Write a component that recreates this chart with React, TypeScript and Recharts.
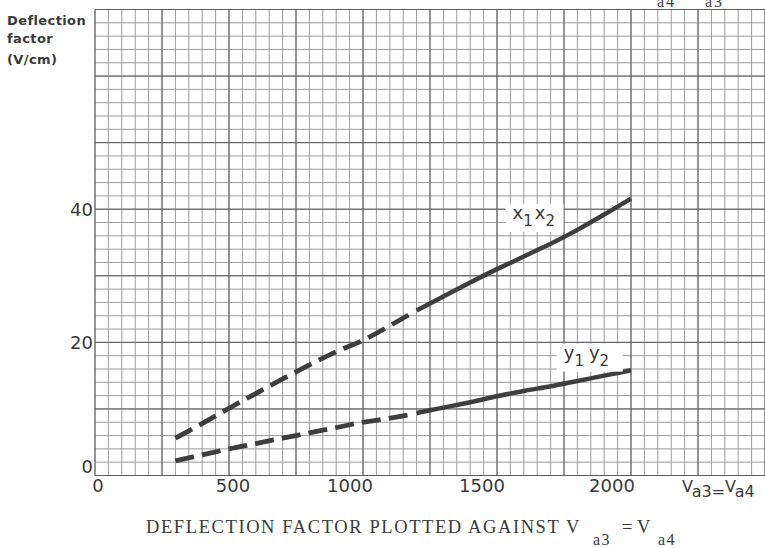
import React from 'react';
import { LineChart, Line, XAxis, YAxis, CartesianGrid, ReferenceDot } from 'recharts';

// ---- data ----
const xDashed = [300, 400, 500, 600, 700, 800, 900, 1000, 1100, 1170];
const x1x2Dashed = [5.6, 7.8, 10.1, 12.3, 14.5, 16.6, 18.6, 20.3, 22.5, 24.1];
const y1y2Dashed = [2.2, 3.1, 4.0, 4.8, 5.6, 6.4, 7.2, 8.0, 8.6, 9.1];

const xSolid = [1200, 1300, 1400, 1500, 1600, 1700, 1800, 1900, 2000];
const x1x2Solid = [24.8, 26.9, 29.0, 31.0, 32.9, 34.8, 36.9, 39.2, 41.6];
const y1y2Solid = [9.4, 10.2, 11.0, 11.9, 12.7, 13.4, 14.2, 15.0, 15.8];

const xTicks = [0, 500, 1000, 1500, 2000];
const yTicks = [0, 20, 40];

const X_MAX = 2500;
const Y_MAX = 70;

const toRows = (xs: number[], ys: number[]) => xs.map((x, i) => ({ x, y: ys[i] }));

const minorX: number[] = [];
for (let v = 0; v <= X_MAX; v += 50) minorX.push(v);
const majorX = minorX.filter((v) => v % 250 === 0);
const minorY: number[] = [];
for (let v = 0; v <= Y_MAX; v += 2) minorY.push(v);
const majorY = minorY.filter((v) => v % 10 === 0);

const vGen = (vals: number[]) => (args: any) => {
  const { xAxis, offset } = args || {};
  return vals.map((v) =>
    xAxis && typeof xAxis.scale === 'function' && Number.isFinite(xAxis.scale(v))
      ? xAxis.scale(v)
      : offset.left + (offset.width * v) / X_MAX
  );
};
const hGen = (vals: number[]) => (args: any) => {
  const { yAxis, offset } = args || {};
  return vals.map((v) =>
    yAxis && typeof yAxis.scale === 'function' && Number.isFinite(yAxis.scale(v))
      ? yAxis.scale(v)
      : offset.top + offset.height * (1 - v / Y_MAX)
  );
};

const SANS = '"DejaVu Sans", sans-serif';
const SERIF = '"Liberation Serif", "DejaVu Serif", serif';
const INK = '#3a3a3a';
const CURVE = '#3e3e3e';

// hand-lettered tick labels in the original sit a little off their grid lines
const xTickShift: Record<number, number> = { 0: 3, 500: 4, 1000: -13, 1500: -15, 2000: -19 };
const yTickShift: Record<number, number> = { 0: -9, 20: 0, 40: 0 };

const XTick = (props: any) => {
  const { x, y, payload } = props;
  const v = payload.value as number;
  return (
    <text x={x + (xTickShift[v] || 0)} y={y + 8} textAnchor="middle" fontFamily={SANS} fontSize={18} fill={INK}>
      {v}
    </text>
  );
};

const YTick = (props: any) => {
  const { y, payload } = props;
  const v = payload.value as number;
  return (
    <text x={93} y={y + (yTickShift[v] || 0)} dy="0.36em" textAnchor="end" fontFamily={SANS} fontSize={18} fill={INK}>
      {v}
    </text>
  );
};

const YTitle = () => (
  <g fontFamily={SANS} fontWeight="bold" fontSize={13} fill={INK} letterSpacing={0.4}>
    <text x={7} y={25}>Deflection</text>
    <text x={7} y={43}>factor</text>
    <text x={7} y={64}>(V/cm)</text>
    {/* remains of a title cut off at the top edge */}
    <text x={657} y={7} fontFamily={SERIF} fontWeight="normal" fontSize={16} letterSpacing={2}>a4</text>
    <text x={705} y={7} fontFamily={SERIF} fontWeight="normal" fontSize={16} letterSpacing={2}>a3</text>
  </g>
);

const XTitle = () => (
  <g fill={INK}>
    <text x={682} y={497} fontFamily={SANS} fontSize={16}>
      <tspan dy={-5}>V</tspan>
      <tspan dy={5}>a3</tspan>
      <tspan>=</tspan>
      <tspan dy={-5}>V</tspan>
      <tspan dy={5}>a4</tspan>
    </text>
    <g fontFamily={SERIF} fontSize={18.5} letterSpacing={1.6}>
      <text x={146} y={533}>DEFLECTION FACTOR PLOTTED AGAINST V</text>
      <text x={593} y={545} fontSize={16} letterSpacing={1.5}>a3</text>
      <text x={622} y={533}>=</text>
      <text x={637} y={533}>V</text>
      <text x={658} y={545} fontSize={16} letterSpacing={1.5}>a4</text>
    </g>
  </g>
);

const CurveTag = (props: any) => {
  const { viewBox, main, w } = props;
  const cx = viewBox.x + (viewBox.width || 0) / 2;
  const cy = viewBox.y + (viewBox.height || 0) / 2;
  return (
    <g>
      <rect x={cx - w / 2} y={cy - 14} width={w} height={28} fill="#ffffff" />
      <text x={cx - w / 2 + 7} y={cy + 1} fontFamily={SANS} fontSize={18} fill={INK}>
        <tspan>{main}</tspan>
        <tspan fontSize={15} dy={7}>1</tspan>
        <tspan dy={-7} dx={main === 'y' ? 5 : 2}>{main}</tspan>
        <tspan fontSize={15} dy={7}>2</tspan>
      </text>
    </g>
  );
};

export default function App() {
  return (
    <div style={{ position: 'absolute', left: 0, top: 0, width: 765, height: 548, background: '#ffffff' }}>
      <LineChart width={765} height={548} margin={{ top: 9.5, right: 0, bottom: 0, left: 0 }}>
        <CartesianGrid stroke="#9c9c9c" strokeWidth={1}
          verticalCoordinatesGenerator={vGen(minorX)} horizontalCoordinatesGenerator={hGen(minorY)} />
        <CartesianGrid stroke="#5c5c5c" strokeWidth={1}
          verticalCoordinatesGenerator={vGen(majorX)} horizontalCoordinatesGenerator={hGen(majorY)} />
        <XAxis
          type="number"
          dataKey="x"
          domain={[0, X_MAX]}
          ticks={xTicks}
          allowDataOverflow
          height={72.5}
          axisLine={false}
          tickLine={false}
          tick={<XTick />}
          label={{ content: () => <XTitle /> }}
        />
        <YAxis
          type="number"
          dataKey="y"
          domain={[0, Y_MAX]}
          ticks={yTicks}
          allowDataOverflow
          width={95}
          axisLine={false}
          tickLine={false}
          tick={<YTick />}
          label={{ content: () => <YTitle /> }}
        />
        <Line data={toRows(xDashed, x1x2Dashed)} dataKey="y" type="monotone" stroke={CURVE} strokeWidth={4.8}
          strokeDasharray="19 8.2" dot={false} isAnimationActive={false} />
        <Line data={toRows(xSolid, x1x2Solid)} dataKey="y" type="monotone" stroke={CURVE} strokeWidth={4.5}
          dot={false} isAnimationActive={false} />
        <Line data={toRows(xDashed, y1y2Dashed)} dataKey="y" type="monotone" stroke={CURVE} strokeWidth={4.8}
          strokeDasharray="19 8.2" dot={false} isAnimationActive={false} />
        <Line data={toRows(xSolid, y1y2Solid)} dataKey="y" type="monotone" stroke={CURVE} strokeWidth={4.5}
          dot={false} isAnimationActive={false} />
        <ReferenceDot x={1640} y={38.7} r={1} fill="none" stroke="none"
          label={{ content: (p: any) => <CurveTag {...p} main="x" w={58} /> }} />
        <ReferenceDot x={1846} y={17.7} r={1} fill="none" stroke="none"
          label={{ content: (p: any) => <CurveTag {...p} main="y" w={66} /> }} />
      </LineChart>
    </div>
  );
}
